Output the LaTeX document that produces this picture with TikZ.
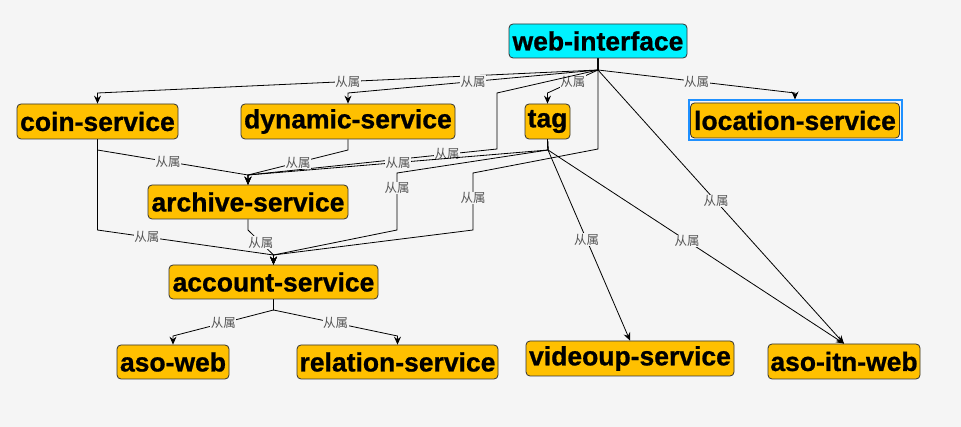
\documentclass[tikz,border=0pt]{standalone}
\usepackage{fontspec}
\setmainfont{Liberation Sans}
\newfontfamily\boxfont[FakeBold=0.8]{Liberation Sans Bold}
\newfontfamily\cjk{Noto Sans CJK SC}
\usetikzlibrary{arrows.meta}
\definecolor{bg}{HTML}{F5F5F5}
\definecolor{svc}{HTML}{FFC000}
\definecolor{webc}{HTML}{00F2FF}
\definecolor{lblc}{HTML}{555555}
\definecolor{selc}{HTML}{1E90FF}
\definecolor{bord}{HTML}{333333}
\begin{document}
\begin{tikzpicture}[x=1pt,y=-1pt,
  svcbox/.style={draw=bord, line width=0.8pt, rounded corners=4pt, fill=svc, inner sep=0pt,
    font=\boxfont\fontsize{26.5}{28}\selectfont, text=black},
  lbl/.style={font=\cjk\fontsize{12.5}{13}\selectfont, text=lblc, fill=bg, inner sep=0.5pt},
  conn/.style={draw=black, line width=0.8pt},
  arr/.style={-{Stealth[length=8pt,width=7pt,inset=2.8pt]}}]
\fill[bg] (0,0) rectangle (961,427);
\useasboundingbox (0,0) rectangle (961,427);

% nodes
\node[svcbox, fill=webc, minimum width=178pt, minimum height=34pt] (web) at (598,41) {web-interface};
\node[svcbox, minimum width=161pt, minimum height=35pt] (coin) at (97.5,121.5) {coin-service};
\node[svcbox, minimum width=214pt, minimum height=35pt] (dyn) at (348,121.5) {dynamic-service};
\node[svcbox, minimum width=45pt, minimum height=35pt] (tag) at (547.5,121.5) {tag};
\node[draw=selc, line width=2pt, minimum width=213pt, minimum height=40pt, inner sep=0pt] (locsel) at (795,120.5) {};
\node[svcbox, minimum width=209pt, minimum height=35pt] (loc) at (795,120.5) {location-service};
\node[svcbox, minimum width=200pt, minimum height=34pt] (archive) at (248,202) {archive-service};
\node[svcbox, minimum width=209pt, minimum height=34pt] (account) at (273.5,282) {account-service};
\node[svcbox, minimum width=112pt, minimum height=34pt] (asoweb) at (173,362) {aso-web};
\node[svcbox, minimum width=201pt, minimum height=34pt] (rel) at (397.5,362) {relation-service};
\node[svcbox, minimum width=208pt, minimum height=35pt] (video) at (630,358.5) {videoup-service};
\node[svcbox, minimum width=152pt, minimum height=35pt] (asoitn) at (844,361.5) {aso-itn-web};

% junctions
\coordinate (wj) at (598,70);
\coordinate (tj) at (548,150);
\coordinate (cj) at (97.5,150);
\coordinate (dj) at (348,150);
\coordinate (aj) at (248,230);
\coordinate (arin) at (248,175);
\coordinate (acin) at (273.5,255);
\coordinate (acj) at (273.5,310);

% web-interface edges
\draw[conn,arr] (web.south) -- (wj) -- node[lbl]{从属} (97.5,93) -- (coin.north);
\draw[conn,arr] (web.south) -- (wj) -- node[lbl]{从属} (348,93) -- (dyn.north);
\draw[conn,arr] (web.south) -- (wj) -- node[lbl]{从属} (547.5,93) -- (tag.north);
\draw[conn,arr] (web.south) -- (wj) -- node[lbl]{从属} (795,93) -- (locsel.north);
\draw[conn,arr] (web.south) -- (wj) -- node[lbl,pos=0.48]{从属} (asoitn.north);
\draw[conn,arr] (web.south) -- (wj) -- (497,93) -- (497,149) -- node[lbl,pos=0.2]{从属} (arin) -- (archive.north);
\draw[conn,arr] (web.south) -- (wj) -- (598,149) -- (473,173) -- node[lbl,pos=0.44]{从属} (473,230) -- (acin) -- (account.north);

% tag edges
\draw[conn,arr] (tag.south) -- (tj) -- node[lbl]{从属} (arin) -- (archive.north);
\draw[conn,arr] (tag.south) -- (tj) -- (397,173) -- node[lbl,pos=0.26]{从属} (397,230) -- (acin) -- (account.north);
\draw[conn,arr] (tag.south) -- (tj) -- node[lbl,pos=0.47]{从属} (video.north);
\draw[conn,arr] (tag.south) -- (tj) -- node[lbl,pos=0.47]{从属} (asoitn.north);

% coin / dynamic edges
\draw[conn,arr] (coin.south) -- (cj) -- node[lbl,pos=0.47]{从属} (arin) -- (archive.north);
\draw[conn,arr] (coin.south) -- (cj) -- (97.5,230) -- node[lbl,pos=0.28]{从属} (acin) -- (account.north);
\draw[conn,arr] (dyn.south) -- (dj) -- node[lbl]{从属} (arin) -- (archive.north);

% archive / account edges
\draw[conn,arr] (archive.south) -- (aj) -- node[lbl]{从属} (acin) -- (account.north);
\draw[conn,arr] (account.south) -- (acj) -- node[lbl]{从属} (173,336) -- (asoweb.north);
\draw[conn,arr] (account.south) -- (acj) -- node[lbl]{从属} (397.5,336) -- (rel.north);
\end{tikzpicture}
\end{document}
